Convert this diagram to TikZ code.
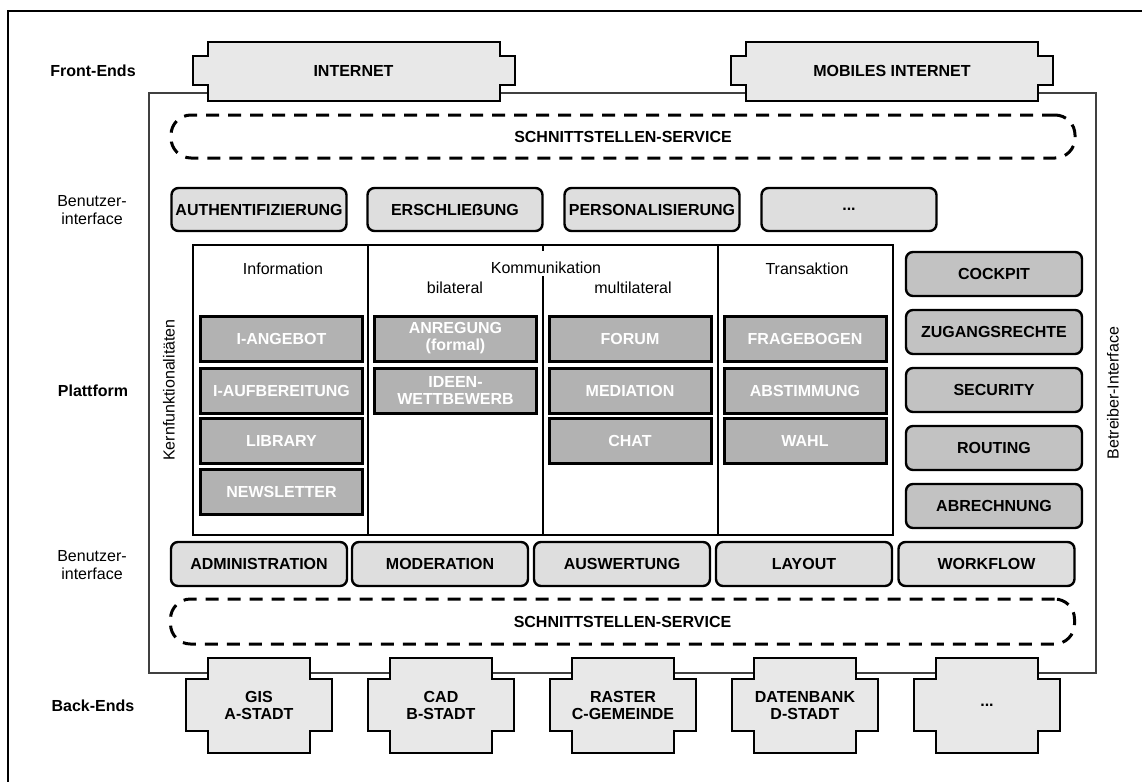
\documentclass[tikz,border=0pt]{standalone}
\usepackage{fontspec}
\setmainfont{Liberation Sans}
\definecolor{endfill}{gray}{0.91}
\definecolor{uifill}{gray}{0.87}
\definecolor{opfill}{gray}{0.76}
\definecolor{corefill}{gray}{0.70}
\definecolor{frameline}{gray}{0.25}

% front-end tab shape (name, centre x, text)
\newcommand\feshape[3]{%
  \draw[endshape] (#2-146,42) -- (#2+146,42) -- (#2+146,56) -- (#2+161,56)
    -- (#2+161,85) -- (#2+146,85) -- (#2+146,101) -- (#2-146,101)
    -- (#2-146,85) -- (#2-161,85) -- (#2-161,56) -- (#2-146,56) -- cycle;
  \node[boldtxt] (#1) at (#2,71) {#3};}
% back-end cross shape (name, centre x, text)
\newcommand\beshape[3]{%
  \draw[endshape] (#2-51,658) -- (#2+51,658) -- (#2+51,679) -- (#2+73,679)
    -- (#2+73,731) -- (#2+51,731) -- (#2+51,753) -- (#2-51,753)
    -- (#2-51,731) -- (#2-73,731) -- (#2-73,679) -- (#2-51,679) -- cycle;
  \node[boldtxt, align=center] (#1) at (#2,705.5) {#3};}

\begin{document}
\begin{tikzpicture}[x=1pt, y=-1pt,
  txt/.style={font=\fontsize{16}{17.5}\selectfont, inner sep=0pt},
  boldtxt/.style={font=\fontsize{16}{17.5}\selectfont\bfseries, inner sep=0pt},
  endshape/.style={draw=black, line width=2pt, fill=endfill},
  uibox/.style={boldtxt, draw=black, line width=2.4pt, rounded corners=7pt,
    fill=uifill, minimum height=43pt, minimum width=175pt},
  opbox/.style={uibox, fill=opfill, minimum width=176pt, minimum height=44pt},
  corebox/.style={boldtxt, align=center, draw=black, line width=3pt, fill=corefill,
    text=white, minimum width=162pt, minimum height=45pt,
    font=\fontsize{16}{17}\selectfont\bfseries},
  svcbox/.style={boldtxt, draw=black, line width=3pt, dash pattern=on 13pt off 9pt,
    rounded corners=20pt, minimum width=904pt},
  tabline/.style={line width=1.5pt, draw=black}]

\useasboundingbox (0,0) rectangle (1142,782);
\fill[white] (0,0) rectangle (1142,782);

% outer frame
\draw[line width=2pt] (1142,11) -- (8,11) -- (8,782);

% platform frame
\draw[draw=frameline, line width=1.3pt] (149,93) rectangle (1096,673);

% layer labels
\node[boldtxt] (lfront) at (93,71) {Front-Ends};
\node[txt, align=center] (lui1) at (92,210) {Benutzer-\\interface};
\node[boldtxt] (lplat) at (93,391) {Plattform};
\node[txt, align=center] (lui2) at (92,565) {Benutzer-\\interface};
\node[boldtxt] (lback) at (93,706) {Back-Ends};

% interface services
\node[svcbox, minimum height=43pt] (svctop) at (623,136.5) {SCHNITTSTELLEN-SERVICE};
\node[svcbox, minimum height=45pt] (svcbot) at (622.5,621.5) {SCHNITTSTELLEN-SERVICE};

% user interface, upper row
\node[uibox] (auth) at (259,209.5) {AUTHENTIFIZIERUNG};
\node[uibox] (ersch) at (455,209.5) {ERSCHLIEẞUNG};
\node[uibox] (pers) at (652,209.5) {PERSONALISIERUNG};
\node[uibox] (uimore) at (849,209.5) {...};

% core functions table
\draw[tabline] (193,245) rectangle (893,535);
\draw[tabline] (368,245) -- (368,535);
\draw[tabline] (543,245) -- (543,251);
\draw[tabline] (543,276) -- (543,535);
\draw[tabline] (718,245) -- (718,535);
\node[txt] (hinfo) at (283,269) {Information};
\node[txt] (hkomm) at (546,268) {Kommunikation};
\node[txt] (hbil) at (455,288) {bilateral};
\node[txt] (hmul) at (633,288) {multilateral};
\node[txt] (htrans) at (807,269) {Transaktion};
\node[txt, rotate=90] (kern) at (169,390) {Kernfunktionalitäten};

\node[corebox] (iang) at (281.5,338.5) {I-ANGEBOT};
\node[corebox] (iauf) at (281.5,390.5) {I-AUFBEREITUNG};
\node[corebox] (lib) at (281.5,440.5) {LIBRARY};
\node[corebox] (news) at (281.5,492) {NEWSLETTER};

\node[corebox] (anr) at (455.5,338.5) {ANREGUNG\\(formal)};
\node[corebox] (ideen) at (455.5,390.5) {IDEEN-\\WETTBEWERB};

\node[corebox] (forum) at (630,338.5) {FORUM};
\node[corebox] (med) at (630,390.5) {MEDIATION};
\node[corebox] (chat) at (630,440.5) {CHAT};

\node[corebox] (frage) at (805,338.5) {FRAGEBOGEN};
\node[corebox] (abst) at (805,390.5) {ABSTIMMUNG};
\node[corebox] (wahl) at (805,440.5) {WAHL};

% operator interface
\node[opbox] (cock) at (994,274) {COCKPIT};
\node[opbox] (zug) at (994,332) {ZUGANGSRECHTE};
\node[opbox] (sec) at (994,390) {SECURITY};
\node[opbox] (rout) at (994,448) {ROUTING};
\node[opbox] (abr) at (994,506) {ABRECHNUNG};
\node[txt, rotate=90] (betr) at (1113,393) {Betreiber-Interface};

% user interface, lower row
\node[uibox, minimum width=176pt, minimum height=44pt] (admin) at (259,564) {ADMINISTRATION};
\node[uibox, minimum width=176pt, minimum height=44pt] (mod) at (440,564) {MODERATION};
\node[uibox, minimum width=176pt, minimum height=44pt] (ausw) at (622,564) {AUSWERTUNG};
\node[uibox, minimum width=176pt, minimum height=44pt] (layout) at (804,564) {LAYOUT};
\node[uibox, minimum width=176pt, minimum height=44pt] (wf) at (986.5,564) {WORKFLOW};

% front-ends
\feshape{inet}{353.5}{INTERNET}
\feshape{mobile}{892}{MOBILES INTERNET}

% back-ends
\beshape{gis}{259}{GIS\\A-STADT}
\beshape{cad}{441}{CAD\\B-STADT}
\beshape{raster}{623}{RASTER\\C-GEMEINDE}
\beshape{db}{805}{DATENBANK\\D-STADT}
\beshape{bemore}{987}{...}

\end{tikzpicture}
\end{document}
